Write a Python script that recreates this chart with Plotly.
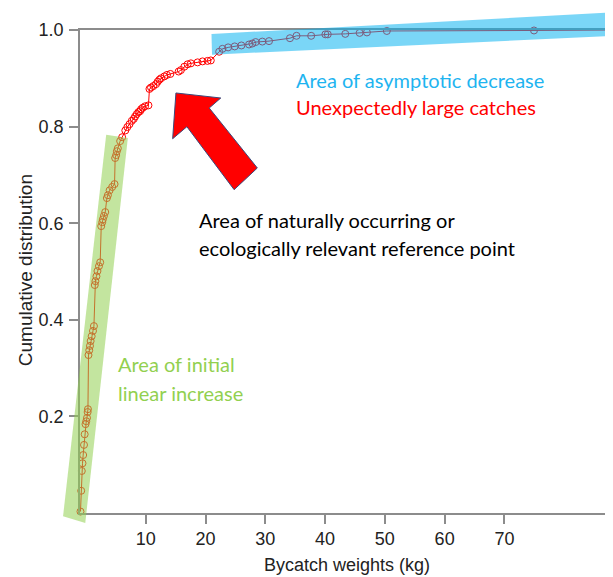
import plotly.graph_objects as go

# Bycatch weights (kg), sorted, and their cumulative distribution
weights_kg = [-0.92, -0.80, -0.70, -0.58, -0.47, -0.33, -0.22, -0.08, 0.05, 0.17, 0.28, 0.33,
              0.42, 0.55, 0.67, 0.78, 0.95, 1.17, 1.33,
              1.47, 1.58, 1.75, 1.92, 2.17, 2.38,
              2.55, 2.72, 2.83, 3.00, 3.22,
              3.50, 3.67, 3.95, 4.38, 4.78,
              4.88, 5.05, 5.17, 5.33, 5.72, 6.05,
              6.58, 6.92, 7.28, 7.67, 8.00, 8.22, 8.50, 8.78, 9.05, 9.22, 9.50, 9.88, 10.45,
              10.62, 10.88, 11.28, 11.72, 12.00, 12.28, 12.55, 13.12, 13.55, 14.12,
              15.50, 15.88, 16.45, 17.00, 17.55, 18.67, 19.50, 20.33, 20.88,
              22.28, 22.83, 23.78, 24.88, 26.00, 27.28, 27.83, 28.38, 29.50, 30.62,
              34.12, 35.22, 37.67, 40.05, 40.45, 43.38, 45.78, 47.00, 50.33, 74.95, 88.78]
cumulative = [0.003, 0.046, 0.087, 0.103, 0.120, 0.141, 0.163, 0.184, 0.190, 0.197, 0.209, 0.215,
              0.327, 0.337, 0.346, 0.356, 0.366, 0.377, 0.387,
              0.472, 0.480, 0.490, 0.501, 0.511, 0.519,
              0.594, 0.602, 0.608, 0.615, 0.623,
              0.652, 0.658, 0.668, 0.675, 0.681,
              0.735, 0.741, 0.749, 0.755, 0.770, 0.778,
              0.792, 0.799, 0.805, 0.812, 0.816, 0.821, 0.826, 0.830, 0.832, 0.836, 0.839, 0.842, 0.844,
              0.878, 0.881, 0.884, 0.888, 0.893, 0.897, 0.900, 0.904, 0.907, 0.909,
              0.914, 0.917, 0.924, 0.929, 0.931, 0.933, 0.935, 0.936, 0.937,
              0.955, 0.961, 0.964, 0.966, 0.968, 0.970, 0.972, 0.975, 0.976, 0.977,
              0.983, 0.988, 0.988, 0.991, 0.991, 0.992, 0.994, 0.995, 0.998, 0.999, 1.000]

x_ticks = [10, 20, 30, 40, 50, 60, 70]
y_ticks = [0.2, 0.4, 0.6, 0.8, 1.0]
y_tick_labels = ["0.2", "0.4", "0.6", "0.8", "1.0"]

W, H = 613, 577
ML, MR, MT, MB = 72, 1, 22, 72
PW, PH = W - ML - MR, H - MT - MB


def pp(px, py):
    """pixel -> paper coordinates"""
    return (px - ML) / PW, (H - MB - py) / PH


def path(pts):
    s = ""
    for i, (px, py) in enumerate(pts):
        x, y = pp(px, py)
        s += ("M" if i == 0 else "L") + f"{x:.4f},{y:.4f} "
    return s + "Z"


fig = go.Figure()
fig.add_trace(go.Scatter(
    x=weights_kg, y=cumulative, mode="lines+markers",
    line=dict(color="#FF0000", width=1),
    marker=dict(symbol="circle-open", size=7, color="#FF0000", line=dict(width=1)),
    cliponaxis=False, showlegend=False, hoverinfo="skip"))

green_band = [(55, 508.3), (77.3, 515), (120, 130), (98.3, 126.7)]
blue_band = [(204, 26), (204.5, 46.7), (625, 27.0), (625, 3.4)]
arrow = [(168.3, 85), (213.3, 90), (201.7, 100), (250, 160), (226.7, 181.7),
         (179.3, 118.7), (165, 130.7)]

fig.add_shape(type="path", xref="paper", yref="paper", path=path(green_band),
              fillcolor="rgba(146,208,80,0.55)", line=dict(width=0), layer="above")
fig.add_shape(type="path", xref="paper", yref="paper", path=path(blue_band),
              fillcolor="rgba(0,176,240,0.52)", line=dict(width=0), layer="above")
fig.add_shape(type="path", xref="paper", yref="paper", path=path(arrow),
              fillcolor="#FF0000", line=dict(color="#3B4A7C", width=1), layer="above")

texts = [
    ("Area of asymptotic decrease", 286.7, 72.5, "#1EB4F0"),
    ("Unexpectedly large catches", 286.7, 99.5, "#FF0000"),
    ("Area of naturally occurring or", 189, 211.5, "#000000"),
    ("ecologically relevant reference point", 189, 239.5, "#000000"),
    ("Area of initial", 108, 355.5, "#92D050"),
    ("linear increase", 108, 384.5, "#92D050"),
]
for t, px, py, c in texts:
    x, y = pp(px, py)
    fig.add_annotation(text=t, x=x, y=y, xref="paper", yref="paper",
                       xanchor="left", yanchor="middle", showarrow=False,
                       font=dict(family="Lato", size=20, color=c))

x, y = pp(340, 557)
fig.add_annotation(text="Bycatch weights (kg)", x=x, y=y, xref="paper", yref="paper",
                   xanchor="center", yanchor="middle", showarrow=False,
                   font=dict(family="Liberation Sans, Arial", size=18, color="#222222"))
x, y = pp(17, 262)
fig.add_annotation(text="Cumulative distribution", x=x, y=y, xref="paper", yref="paper",
                   xanchor="center", yanchor="middle", showarrow=False, textangle=-90,
                   font=dict(family="Liberation Sans, Arial", size=19, color="#222222"))

axis_common = dict(showgrid=False, zeroline=False, showline=True, mirror=True,
                   linecolor="#8C8C8C", linewidth=1.5, ticks="outside", ticklen=9,
                   tickcolor="#8C8C8C", tickwidth=1.5,
                   tickfont=dict(family="Liberation Sans, Arial", size=18, color="#222222"))
fig.update_xaxes(range=[-1.0, 89.0], tickvals=x_ticks, **axis_common)
fig.update_yaxes(range=[0, 1.0], tickvals=y_ticks, ticktext=y_tick_labels,
                 ticklabelstandoff=2, **axis_common)

fig.update_layout(width=W, height=H, margin=dict(l=ML, r=MR, t=MT, b=MB),
                  plot_bgcolor="white", paper_bgcolor="white")

fig.write_html("out.html")
